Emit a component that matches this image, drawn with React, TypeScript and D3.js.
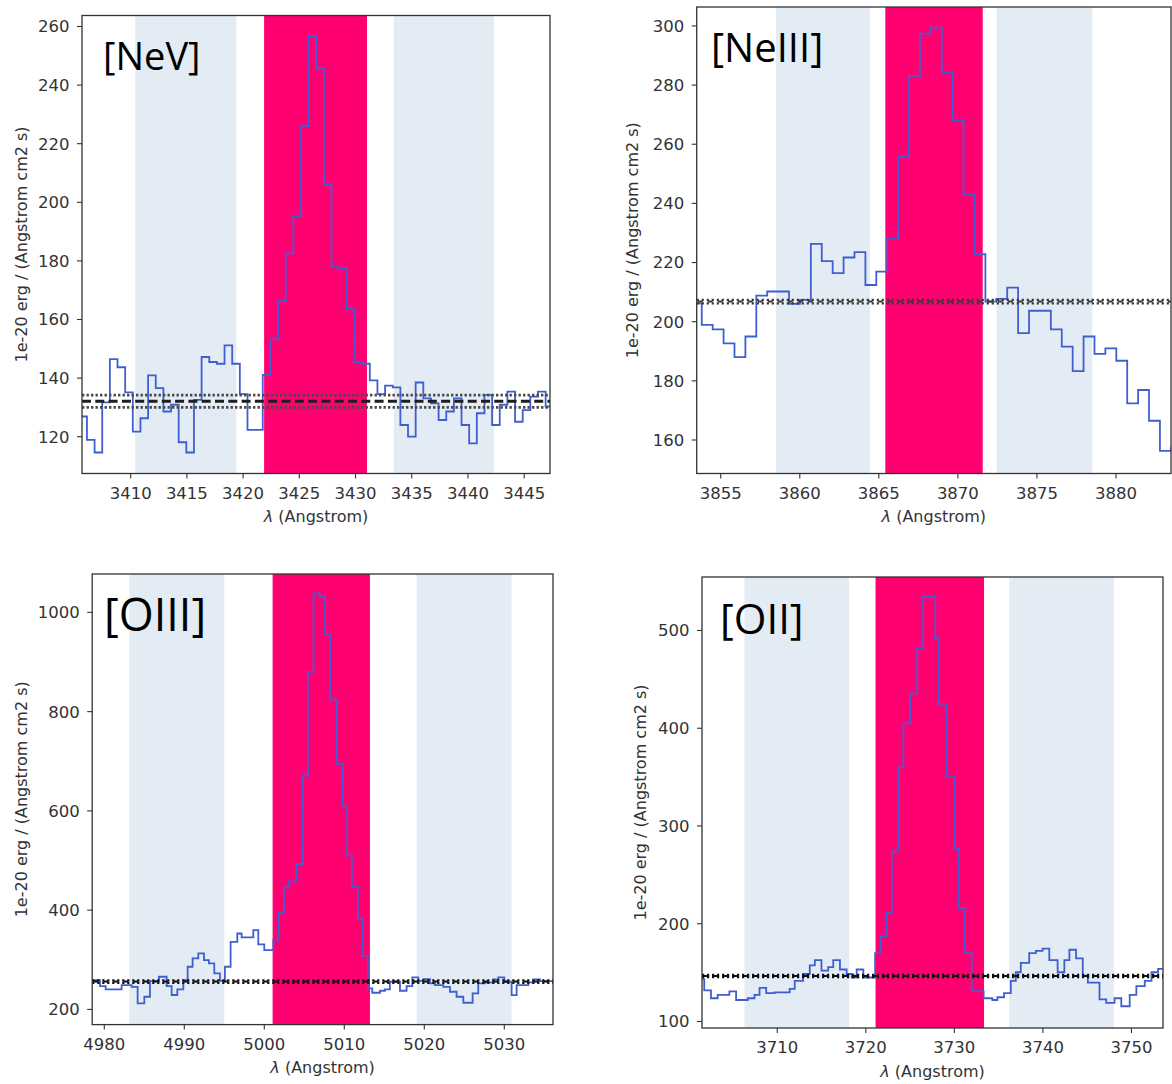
import React from "react";
import * as d3 from "d3";

// ---------------- DATA ----------------
// [NeV] spectrum: wavelength at which each step starts, and flux level of the step
const neVWave = [3405.43, 3406.11, 3406.79, 3407.47, 3408.15, 3408.83, 3409.51, 3410.19, 3410.87, 3411.55, 3412.23, 3412.91, 3413.59, 3414.27, 3414.95, 3415.63, 3416.31, 3416.99, 3417.67, 3418.35, 3419.03, 3419.71, 3420.39, 3421.07, 3421.75, 3422.43, 3423.11, 3423.79, 3424.47, 3425.15, 3425.83, 3426.51, 3427.19, 3427.87, 3428.55, 3429.23, 3429.91, 3430.59, 3431.27, 3431.95, 3432.63, 3433.31, 3433.99, 3434.67, 3435.35, 3436.03, 3436.71, 3437.39, 3438.07, 3438.75, 3439.43, 3440.11, 3440.79, 3441.47, 3442.15, 3442.83, 3443.51, 3444.19, 3444.87, 3445.55, 3446.23, 3446.91];
const neVFlux = [126.9, 118.9, 114.6, 131.7, 146.5, 143.7, 135.1, 121.7, 126.3, 140.9, 136.6, 128.6, 130.9, 118.1, 114.6, 132.6, 147.2, 145.5, 144.9, 151.2, 144.9, 134.5, 122.3, 122.3, 141.1, 153.2, 166.4, 182.6, 195.1, 226.0, 256.7, 245.7, 206.0, 178.1, 177.5, 163.8, 145.5, 144.9, 139.2, 134.5, 137.4, 136.8, 124.0, 120.0, 138.5, 133.1, 131.4, 125.7, 128.6, 133.1, 124.0, 117.7, 128.0, 134.3, 124.0, 130.9, 135.4, 125.1, 129.1, 133.7, 135.4, 130.3];
const neVSide = [[3410.4, 3419.4], [3433.4, 3442.3]];
const neVLine = [3421.87, 3431.02];
const neVCont = [132.1, 2.1]; // continuum level, uncertainty

// [NeIII]
const neIIIWave = [3853.11, 3853.80, 3854.49, 3855.18, 3855.87, 3856.56, 3857.25, 3857.94, 3858.63, 3859.32, 3860.01, 3860.70, 3861.39, 3862.08, 3862.77, 3863.46, 3864.15, 3864.84, 3865.53, 3866.22, 3866.91, 3867.60, 3868.29, 3868.98, 3869.67, 3870.36, 3871.05, 3871.74, 3872.43, 3873.12, 3873.81, 3874.50, 3875.19, 3875.88, 3876.57, 3877.26, 3877.95, 3878.64, 3879.33, 3880.02, 3880.71, 3881.40, 3882.09, 3882.78, 3883.47];
const neIIIFlux = [206.2, 198.9, 197.4, 192.7, 188.0, 195.0, 208.8, 210.2, 210.2, 206.0, 207.4, 226.3, 220.5, 216.4, 221.7, 223.5, 212.4, 216.9, 228.1, 255.8, 283.1, 297.4, 299.4, 284.3, 268.0, 243.0, 222.8, 206.8, 207.7, 211.5, 196.1, 203.7, 203.7, 197.4, 191.6, 183.3, 195.0, 189.1, 191.0, 186.8, 172.4, 176.9, 166.5, 156.3, 157.2];
const neIIISide = [[3858.5, 3864.44], [3872.45, 3878.5]];
const neIIILine = [3865.41, 3871.57];
const neIIICont = [206.8, 0.6];

// [OIII]
const oIIIWave = [4978.3, 4979.46, 4980.17, 4982.17, 4983.42, 4984.17, 4985.0, 4985.71, 4986.83, 4987.79, 4988.42, 4989.13, 4989.88, 4990.42, 4991.04, 4991.75, 4992.46, 4993.08, 4993.75, 4994.46, 4995.08, 4995.79, 4996.63, 4997.17, 4998.63, 4999.25, 5000.0, 5001.13, 5001.79, 5002.46, 5003.04, 5004.02, 5004.82, 5005.45, 5006.16, 5006.92, 5007.59, 5008.26, 5009.06, 5009.82, 5010.36, 5010.94, 5011.7, 5012.28, 5012.95, 5013.5, 5014.46, 5015.08, 5015.7, 5016.96, 5017.79, 5018.5, 5019.25, 5019.88, 5020.71, 5021.33, 5022.38, 5023.21, 5024.04, 5024.88, 5026.04, 5026.75, 5027.58, 5028.63, 5029.25, 5030.0, 5030.92, 5031.54, 5033.0, 5033.63, 5034.46];
const oIIIFlux = [259, 247, 240.3, 249, 245.6, 212, 225.5, 257, 265.8, 247, 229, 240.3, 259, 286, 302.7, 312.8, 299.3, 292.6, 272.5, 257.7, 286, 336.2, 353, 345, 359.7, 330.9, 319.5, 340, 395, 445.8, 458, 493, 671.4, 880, 1038, 1032, 954, 824, 695, 610.8, 509.8, 447, 381.8, 307.7, 242.3, 233.6, 237.6, 240.3, 255.7, 237.6, 247, 264.4, 257.7, 261, 252.3, 249, 245.6, 235.6, 225.5, 213.4, 232.2, 252.3, 254.4, 260.4, 264.4, 255.7, 228.9, 249, 254.4, 260.4, 257];
const oIIISide = [[4983.13, 4995.0], [5019.04, 5030.9]];
const oIIILine = [5001.04, 5013.21];
const oIIICont = [256, 2.4];

// [OII]
const oIIWave = [3701.3, 3701.75, 3702.51, 3703.27, 3704.59, 3705.35, 3706.67, 3707.43, 3708.0, 3708.75, 3709.7, 3711.4, 3711.97, 3712.91, 3713.67, 3714.24, 3714.99, 3715.75, 3716.32, 3717.08, 3717.83, 3718.4, 3718.97, 3719.72, 3721.05, 3721.7, 3722.35, 3722.94, 3723.73, 3724.24, 3725.02, 3725.8, 3726.47, 3727.84, 3728.24, 3729.1, 3730.0, 3730.51, 3731.18, 3731.96, 3733.3, 3734.29, 3734.86, 3735.61, 3736.37, 3736.94, 3737.5, 3738.45, 3739.2, 3739.96, 3740.72, 3741.66, 3742.42, 3742.99, 3743.74, 3744.5, 3745.07, 3746.39, 3747.15, 3748.09, 3748.85, 3749.8, 3750.55, 3751.5, 3752.26, 3753.01];
const oIIFlux = [143.3, 131.9, 123.8, 127.3, 130.9, 122, 123.8, 127.3, 134.4, 129.1, 129.8, 133.3, 141.5, 148.6, 157.4, 162.8, 152.1, 155.7, 162.8, 153.2, 148.6, 145, 153.2, 145, 170, 187, 211, 274, 360, 405, 435.5, 482, 534.5, 492, 425, 350, 277, 216, 170, 131, 123.8, 122, 124.8, 129.1, 141.5, 150.4, 160, 169.9, 172.3, 174.5, 162.8, 150.4, 162.8, 173.4, 164.5, 146.8, 139.7, 122.7, 119.1, 123.8, 115.6, 127.3, 136.2, 141.5, 150.4, 153.9];
const oIISide = [[3706.3, 3718.1], [3736.2, 3748.0]];
const oIILine = [3721.1, 3733.35];
const oIICont = [146.5, 1.2];

// axis ticks
const neVXTicks = [3410, 3415, 3420, 3425, 3430, 3435, 3440, 3445];
const neVYTicks = [120, 140, 160, 180, 200, 220, 240, 260];
const neIIIXTicks = [3855, 3860, 3865, 3870, 3875, 3880];
const neIIIYTicks = [160, 180, 200, 220, 240, 260, 280, 300];
const oIIIXTicks = [4980, 4990, 5000, 5010, 5020, 5030];
const oIIIYTicks = [200, 400, 600, 800, 1000];
const oIIXTicks = [3710, 3720, 3730, 3740, 3750];
const oIIYTicks = [100, 200, 300, 400, 500];

const yLabelText = "1e-20 erg / (Angstrom cm2 s)";

// ---------------- LAYOUT / STYLE ----------------
type Panel = {
  id: string;
  label: string;
  wave: number[];
  flux: number[];
  side: number[][];
  line: number[];
  cont: number[];
  xTicks: number[];
  yTicks: number[];
  xDom: [number, number];
  yDom: [number, number];
  box: { l: number; t: number; r: number; b: number };
  labelX: number;
  labelY: number;
  labelSize: number;
  yLabelX: number;
  contStyle: "triple" | "h";
  contColor: string;
};

const panels: Panel[] = [
  {
    id: "nev", label: "[NeV]", wave: neVWave, flux: neVFlux, side: neVSide, line: neVLine, cont: neVCont,
    xTicks: neVXTicks, yTicks: neVYTicks, xDom: [3405.67, 3447.3], yDom: [107.44, 263.75],
    box: { l: 82, t: 15.5, r: 550, b: 473.5 }, labelX: 103, labelY: 70, labelSize: 38, yLabelX: 27,
    contStyle: "triple", contColor: "#1e1e1e",
  },
  {
    id: "neiii", label: "[NeIII]", wave: neIIIWave, flux: neIIIFlux, side: neIIISide, line: neIIILine, cont: neIIICont,
    xTicks: neIIIXTicks, yTicks: neIIIYTicks, xDom: [3853.48, 3883.48], yDom: [148.67, 306.4],
    box: { l: 696.7, t: 7, r: 1171, b: 473.5 }, labelX: 711, labelY: 62, labelSize: 40, yLabelX: 638,
    contStyle: "h", contColor: "#3a3a3a",
  },
  {
    id: "oiii", label: "[OIII]", wave: oIIIWave, flux: oIIIFlux, side: oIIISide, line: oIIILine, cont: oIIICont,
    xTicks: oIIIXTicks, yTicks: oIIIYTicks, xDom: [4978.49, 5036.09], yDom: [169.4, 1077.3],
    box: { l: 92.2, t: 574, r: 553, b: 1024.6 }, labelX: 104, labelY: 631, labelSize: 45, yLabelX: 27,
    contStyle: "h", contColor: "#111",
  },
  {
    id: "oii", label: "[OII]", wave: oIIWave, flux: oIIFlux, side: oIISide, line: oIILine, cont: oIICont,
    xTicks: oIIXTicks, yTicks: oIIYTicks, xDom: [3701.5, 3753.56], yDom: [93.35, 554.7],
    box: { l: 702, t: 577, r: 1163, b: 1028 }, labelX: 720, labelY: 634, labelSize: 42, yLabelX: 646,
    contStyle: "h", contColor: "#111",
  },
];

const AXIS = "#333";
const TICK_FONT = "'DejaVu Sans', sans-serif";
const SIDE_FILL = "#e3ebf5";
const LINE_FILL = "#ff0070";
const SPEC = "#3f5fd0";

function PanelView({ p }: { p: Panel }) {
  const { l, t, r, b } = p.box;
  const x = d3.scaleLinear().domain(p.xDom).range([l, r]);
  const y = d3.scaleLinear().domain(p.yDom).range([b, t]);
  const pts: [number, number][] = p.wave.map((w, i) => [w, p.flux[i]]);
  pts.push([p.xDom[1] + 1, p.flux[p.flux.length - 1]]);
  const specPath = d3
    .line<[number, number]>()
    .x((d) => x(d[0]))
    .y((d) => y(d[1]))
    .curve(d3.curveStepAfter)(pts) as string;

  const hLine = (v: number) => d3.line<number>().x((d) => x(d)).y(() => y(v))(p.xDom) as string;
  const [c, e] = p.cont;
  const clipId = "clip-" + p.id;
  const midX = (l + r) / 2;
  const midY = (t + b) / 2;

  return (
    <g>
      <defs>
        <clipPath id={clipId}>
          <rect x={l} y={t} width={r - l} height={b - t} />
        </clipPath>
      </defs>
      <rect x={l} y={t} width={r - l} height={b - t} fill="#fff" />
      <g clipPath={`url(#${clipId})`}>
        {p.side.map((s, i) => (
          <rect key={i} x={x(s[0])} y={t} width={x(s[1]) - x(s[0])} height={b - t} fill={SIDE_FILL} />
        ))}
        <rect x={x(p.line[0])} y={t} width={x(p.line[1]) - x(p.line[0])} height={b - t} fill={LINE_FILL} />
        <path d={specPath} fill="none" stroke={SPEC} strokeWidth={1.8} strokeLinejoin="miter" />
        {p.contStyle === "triple" ? (
          <g fill="none">
            <path d={hLine(c + e)} stroke="#4a4a4a" strokeWidth={2.6} strokeDasharray="2.4 2.1" />
            <path d={hLine(c - e)} stroke="#4a4a4a" strokeWidth={2.6} strokeDasharray="2.4 2.1" />
            <path d={hLine(c)} stroke={p.contColor} strokeWidth={2.8} strokeDasharray="9 4.3" />
          </g>
        ) : (
          <g fill="none">
            <path d={hLine(c + e)} stroke={p.contColor} strokeWidth={2.3} strokeDasharray="2.2 2.8" />
            <path d={hLine(c - e)} stroke={p.contColor} strokeWidth={2.3} strokeDasharray="2.2 2.8" />
            <path d={hLine(c)} stroke={p.contColor} strokeWidth={2.0} strokeDasharray="0 1.1 5 3.9" />
          </g>
        )}
      </g>
      <rect x={l} y={t} width={r - l} height={b - t} fill="none" stroke={AXIS} strokeWidth={1.3} />
      {p.xTicks.map((v) => (
        <g key={"x" + v}>
          <line x1={x(v)} x2={x(v)} y1={b} y2={b + 5} stroke={AXIS} strokeWidth={1.1} />
          <text x={x(v)} y={b + 25} textAnchor="middle" fontFamily={TICK_FONT} fontSize={16.5} fill={AXIS}>
            {v}
          </text>
        </g>
      ))}
      {p.yTicks.map((v) => (
        <g key={"y" + v}>
          <line x1={l - 5} x2={l} y1={y(v)} y2={y(v)} stroke={AXIS} strokeWidth={1.1} />
          <text x={l - 12.5} y={y(v)} dy="0.36em" textAnchor="end" fontFamily={TICK_FONT} fontSize={16.5} fill={AXIS}>
            {v}
          </text>
        </g>
      ))}
      <text x={midX} y={b + 48.5} textAnchor="middle" fontFamily={TICK_FONT} fontSize={16} fill={AXIS}>
        <tspan fontStyle="italic">λ</tspan> (Angstrom)
      </text>
      <text
        transform={`translate(${p.yLabelX},${midY}) rotate(-90)`}
        textAnchor="middle"
        fontFamily={TICK_FONT}
        fontSize={16}
        fill={AXIS}
      >
        {yLabelText}
      </text>
      <text x={p.labelX} y={p.labelY} fontFamily="'Open Sans', 'Noto Sans', sans-serif" fontSize={p.labelSize} fill="#000">
        {p.label}
      </text>
    </g>
  );
}

export default function App() {
  return (
    <svg
      width={1172}
      height={1084}
      viewBox="0 0 1172 1084"
      style={{ position: "absolute", left: 0, top: 0, background: "#fff" }}
    >
      <rect x={0} y={0} width={1172} height={1084} fill="#fff" />
      {panels.map((p) => (
        <PanelView key={p.id} p={p} />
      ))}
    </svg>
  );
}
